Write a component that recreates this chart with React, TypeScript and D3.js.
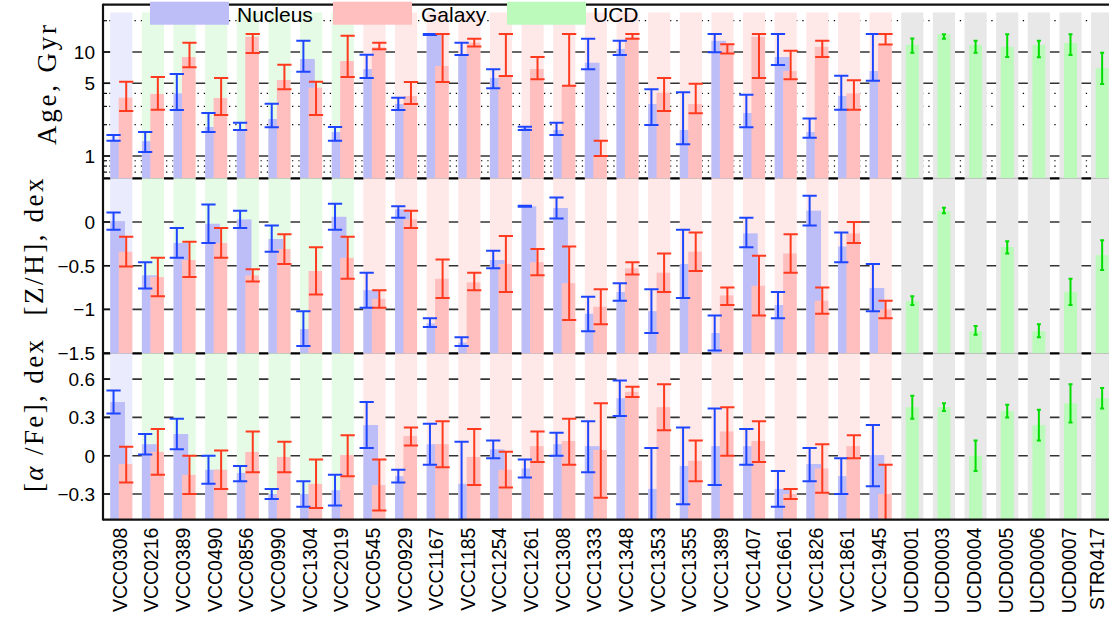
import React from 'react';
import * as d3 from 'd3';

// ---------- categories ----------
const vccNames = ['VCC0308','VCC0216','VCC0389','VCC0490','VCC0856','VCC0990','VCC1304','VCC2019','VCC0545','VCC0929','VCC1167','VCC1185','VCC1254','VCC1261','VCC1308','VCC1333','VCC1348','VCC1353','VCC1355','VCC1389','VCC1407','VCC1661','VCC1826','VCC1861','VCC1945'];
const ucdNames = ['UCD0001','UCD0003','UCD0004','UCD0005','UCD0006','UCD0007','STR0417'];
// background band group of each VCC galaxy
const vccGroup = ['b','g','g','g','g','g','g','g','r','r','r','r','r','r','r','r','r','r','r','r','r','r','r','r','r'];

// ---------- Age, Gyr ----------
const ageNuc   = [1.43,1.39,4.0,1.90,1.80,2.27,8.57,1.70,6.86,3.16,14.9,9.35,5.62,1.86,1.78,7.89,10.7,3.16,1.78,12.8,2.59,8.95,1.70,3.78,6.56];
const ageNucLo = [1.40,1.09,2.77,1.70,1.78,1.89,6.47,1.40,5.62,2.77,14.6,9.35,4.48,1.78,1.59,6.82,9.35,1.99,1.30,9.94,1.89,7.48,1.50,2.79,5.30];
const ageNucHi = [1.59,1.70,6.14,2.59,2.09,3.18,12.8,1.90,9.42,3.64,14.9,12.3,6.82,1.91,2.09,13.4,12.8,4.38,4.10,14.9,3.89,14.9,2.30,5.92,14.9];
const ageGal   = [3.64,3.95,8.95,3.61,14.0,5.38,4.54,8.19,11.1,3.78,7.33,12.3,5.87,6.86,4.74,1.00,13.8,4.06,3.16,11.7,14.0,6.56,11.2,4.00,11.6];
const ageGalLo = [2.71,2.79,7.13,2.48,9.78,4.38,2.48,5.75,10.6,3.16,5.15,11.3,5.87,5.46,4.74,1.00,13.4,2.71,2.57,9.70,5.62,5.46,8.95,2.79,11.8];
const ageGalHi = [5.18,5.75,12.3,5.62,14.9,7.55,5.18,14.3,12.3,5.15,14.9,13.4,14.9,8.95,14.9,1.40,14.9,5.62,4.96,11.9,14.9,10.3,12.8,5.34,14.9];
const ageUcd   = [11.7,14.8,11.7,11.2,11.7,12.2,6.97];
const ageUcdLo = [9.85,13.4,9.85,8.95,8.90,9.35,4.93];
const ageUcdHi = [13.5,14.8,12.8,14.8,12.8,14.8,9.85];

// ---------- [Z/H], dex ----------
const zNuc   = [0.01,-0.61,-0.24,-0.02,0.03,-0.195,-1.225,0.06,-0.78,0.145,-1.16,-1.38,-0.435,0.18,0.16,-1.05,-0.80,-1.02,-0.48,-1.27,-0.13,-0.95,0.13,-0.28,-0.755];
const zNucLo = [-0.09,-0.76,-0.41,-0.24,-0.07,-0.34,-1.42,-0.09,-0.98,0.05,-1.20,-1.42,-0.53,0.175,0.04,-1.25,-0.90,-1.27,-0.87,-1.47,-0.29,-1.10,-0.04,-0.46,-1.02];
const zNucHi = [0.11,-0.46,-0.07,0.20,0.13,-0.04,-1.02,0.21,-0.58,0.18,-1.10,-1.32,-0.33,0.185,0.28,-0.855,-0.70,-0.77,-0.09,-1.07,0.05,-0.80,0.30,-0.12,-0.48];
const zGal   = [-0.34,-0.63,-0.435,-0.24,-0.61,-0.31,-0.56,-0.41,-0.88,0.03,-0.65,-0.69,-0.48,-0.46,-0.70,-0.97,-0.53,-0.58,-0.34,-0.84,-0.73,-0.36,-0.90,-0.13,-1.00];
const zGalLo = [-0.51,-0.85,-0.63,-0.41,-0.68,-0.48,-0.83,-0.65,-0.98,-0.07,-0.87,-0.78,-0.80,-0.61,-1.12,-1.17,-0.60,-0.80,-0.56,-0.95,-1.07,-0.58,-1.05,-0.24,-1.10];
const zGalHi = [-0.17,-0.41,-0.225,-0.07,-0.54,-0.14,-0.29,-0.17,-0.78,0.13,-0.43,-0.58,-0.16,-0.31,-0.28,-0.77,-0.46,-0.36,-0.12,-0.75,-0.385,-0.14,-0.75,0.0,-0.90];
const zUcd   = [-0.905,0.126,-1.25,-0.286,-1.25,-0.80,-0.38];
const zUcdLo = [-0.95,0.10,-1.29,-0.36,-1.32,-0.95,-0.55];
const zUcdHi = [-0.85,0.164,-1.19,-0.22,-1.17,-0.65,-0.21];

// ---------- [alpha/Fe], dex ----------
const aNuc   = [0.42,0.09,0.17,-0.11,-0.135,-0.30,-0.30,-0.27,0.24,-0.16,0.09,-0.22,0.05,-0.10,0.09,0.075,0.45,-0.26,-0.08,0.075,0.075,-0.26,-0.065,-0.16,0.005];
const aNucLo = [0.33,0.01,0.05,-0.22,-0.20,-0.34,-0.40,-0.39,0.06,-0.21,-0.07,-0.55,-0.02,-0.17,0.0,-0.13,0.31,-0.55,-0.38,-0.23,-0.07,-0.40,-0.20,-0.30,-0.24];
const aNucHi = [0.51,0.17,0.29,0.0,-0.08,-0.26,-0.20,-0.15,0.42,-0.11,0.25,0.11,0.12,-0.03,0.18,0.27,0.59,0.06,0.22,0.37,0.21,-0.12,0.06,-0.02,0.24];
const aGal   = [-0.065,0.03,-0.15,-0.11,0.03,-0.01,-0.22,0.005,-0.23,0.155,0.09,-0.01,-0.11,0.075,0.115,0.045,0.50,0.38,-0.04,0.19,0.115,-0.30,-0.10,0.075,-0.30];
const aGalLo = [-0.21,-0.15,-0.30,-0.26,-0.13,-0.13,-0.41,-0.16,-0.43,0.08,-0.09,-0.23,-0.25,-0.05,-0.07,-0.33,0.46,0.20,-0.20,0.0,-0.05,-0.34,-0.29,-0.02,-0.55];
const aGalHi = [0.07,0.21,0.0,0.04,0.19,0.11,-0.03,0.16,-0.03,0.22,0.27,0.21,0.03,0.19,0.29,0.41,0.54,0.56,0.12,0.38,0.27,-0.26,0.09,0.16,-0.07];
const aUcd   = [0.38,0.38,0.0,0.35,0.24,0.41,0.45];
const aUcdLo = [0.29,0.35,-0.12,0.30,0.12,0.26,0.37];
const aUcdHi = [0.47,0.41,0.12,0.40,0.36,0.56,0.53];

// ---------- ticks ----------
const ageTicks = [1, 5, 10];
const ageMinor = [0.7, 0.8, 0.9, 2, 3, 4, 20];
const zTicks = [0, -0.5, -1, -1.5];
const aTicks = [0.6, 0.3, 0, -0.3];

const fmt = (v: number) => (v < 0 ? '\u2212' + String(Math.abs(v)) : String(v));

const COL = {
  nuc: '#bdbdf8', gal: '#ffbfbf', ucd: '#bbfabb',
  bandB: '#ebebfe', bandG: '#e5fbe5', bandR: '#ffe8e8', bandU: '#e8e8e8',
  ebB: '#1e46ff', ebR: '#ff3a1e', ebG: '#00dd00',
};

export default function App() {
  const W = 1109, H = 624;
  const axisX = 103, rightX = 1125;
  const unit = 31.64;
  const allNames = [...vccNames, ...ucdNames];
  const x = d3.scaleLinear().domain([0, allNames.length - 1]).range([121.3, 121.3 + (allNames.length - 1) * unit]);
  const u = (f: number) => f * unit;

  const yAge = d3.scaleLog().domain([1, 10]).range([156, 52]);
  const yZ = d3.scaleLinear().domain([0, -1]).range([222, 309.4]);
  const yA = d3.scaleLinear().domain([0, 0.3]).range([455.7, 417.4]);

  const topY = 4.7;
  const sep1 = 178.3, sep2 = 353.3, botY = yA(-0.5);
  const bandTop = yAge(24);

  const panels = [
    { key: 'age', y: (v: number) => yAge(v), top: topY, bottom: sep1,
      nuc: ageNuc, nucLo: ageNucLo, nucHi: ageNucHi, gal: ageGal, galLo: ageGalLo, galHi: ageGalHi,
      ucd: ageUcd, ucdLo: ageUcdLo, ucdHi: ageUcdHi },
    { key: 'z', y: (v: number) => yZ(v), top: sep1, bottom: sep2,
      nuc: zNuc, nucLo: zNucLo, nucHi: zNucHi, gal: zGal, galLo: zGalLo, galHi: zGalHi,
      ucd: zUcd, ucdLo: zUcdLo, ucdHi: zUcdHi },
    { key: 'a', y: (v: number) => yA(v), top: sep2, bottom: botY,
      nuc: aNuc, nucLo: aNucLo, nucHi: aNucHi, gal: aGal, galLo: aGalLo, galHi: aGalHi,
      ucd: aUcd, ucdLo: aUcdLo, ucdHi: aUcdHi },
  ];

  const majorGrid: number[] = [
    ...ageTicks.map(v => yAge(v)),
    ...zTicks.filter(v => v > -1.5).map(v => yZ(v)),
    ...aTicks.map(v => yA(v)),
  ];
  const minorGrid = ageMinor.map(v => yAge(v));

  const bandColor = (i: number) => {
    if (i >= vccNames.length) return COL.bandU;
    const g = vccGroup[i];
    return g === 'b' ? COL.bandB : g === 'g' ? COL.bandG : COL.bandR;
  };

  const errBar = (k: string, cx: number, y1: number, y2: number, color: string, cap: number) => (
    <g key={k} stroke={color} strokeWidth={2} fill="none">
      <line x1={cx} x2={cx} y1={y1} y2={y2} />
      <line x1={cx - cap / 2} x2={cx + cap / 2} y1={y1} y2={y1} />
      <line x1={cx - cap / 2} x2={cx + cap / 2} y1={y2} y2={y2} />
    </g>
  );

  return (
    <svg width={W} height={H} style={{ position: 'absolute', left: 0, top: 0, background: '#fff' }}
      fontFamily="'Liberation Sans', Arial, Helvetica, sans-serif">
      <defs>
        {panels.map(p => (
          <clipPath id={'clip-' + p.key} key={p.key}>
            <rect x={axisX} y={p.top} width={rightX - axisX} height={p.bottom - p.top} />
          </clipPath>
        ))}
      </defs>
      <rect x={0} y={0} width={W} height={H} fill="#fff" />

      {/* grid lines (visible only between bands) */}
      {majorGrid.map((gy, i) => (
        <line key={'mg' + i} x1={axisX} x2={rightX} y1={gy} y2={gy} stroke="#333" strokeWidth={1.6} />
      ))}
      {minorGrid.map((gy, i) => (
        <line key={'mn' + i} x1={axisX} x2={rightX} y1={gy} y2={gy} stroke="#000" strokeWidth={1.2} strokeDasharray="1.3 5" />
      ))}
      {[sep1, sep2].map((sy, i) => (
        <line key={'sp' + i} x1={axisX} x2={rightX} y1={sy} y2={sy} stroke="#000" strokeWidth={2.2} />
      ))}

      {/* background bands */}
      {allNames.map((n, i) => (
        <rect key={'band' + n} x={x(i) - u(0.35)} width={u(0.7)} y={bandTop} height={botY - bandTop} fill={bandColor(i)} />
      ))}
      {[sep1, sep2].map((sy, i) => (
        <line key={'spf' + i} x1={axisX} x2={rightX} y1={sy} y2={sy} stroke="#000" strokeOpacity={0.22} strokeWidth={1} />
      ))}

      {/* bars and error bars */}
      {panels.map(p => (
        <g key={'p' + p.key} clipPath={`url(#clip-${p.key})`}>
          {vccNames.map((n, i) => {
            const cx = x(i);
            const yn = p.y(p.nuc[i]);
            const yg = p.y(p.gal[i]);
            return (
              <g key={n}>
                <rect x={cx - u(0.35)} width={u(0.465)} y={yn} height={p.bottom - yn} fill={COL.nuc} />
                <rect x={cx - u(0.083)} width={u(0.43)} y={yg} height={p.bottom - yg} fill={COL.gal} />
              </g>
            );
          })}
          {ucdNames.map((n, j) => {
            const cx = x(vccNames.length + j);
            const yu = p.y(p.ucd[j]);
            return <rect key={n} x={cx - u(0.205)} width={u(0.41)} y={yu} height={p.bottom - yu} fill={COL.ucd} />;
          })}
          {vccNames.map((n, i) => {
            const cx = x(i);
            return (
              <g key={'eb' + n}>
                {errBar('n', cx - u(0.245), p.y(p.nucHi[i]), p.y(p.nucLo[i]), COL.ebB, u(0.45))}
                {errBar('g', cx + u(0.155), p.y(p.galHi[i]), p.y(p.galLo[i]), COL.ebR, u(0.45))}
              </g>
            );
          })}
          {ucdNames.map((n, j) => {
            const cx = x(vccNames.length + j);
            return errBar('u' + n, cx, p.y(p.ucdHi[j]), p.y(p.ucdLo[j]), COL.ebG, 4);
          })}
        </g>
      ))}

      {/* frame */}
      <line x1={axisX} x2={rightX} y1={topY} y2={topY} stroke="#111" strokeWidth={2.2} />
      <line x1={axisX} x2={rightX} y1={botY} y2={botY} stroke="#111" strokeWidth={2.2} />
      <line x1={axisX} x2={axisX} y1={topY - 1} y2={botY + 1} stroke="#111" strokeWidth={2.2} />

      {/* y ticks */}
      {ageTicks.map(v => (
        <g key={'at' + v}>
          <line x1={axisX} x2={axisX + 7} y1={yAge(v)} y2={yAge(v)} stroke="#111" strokeWidth={1.5} />
          <text x={95} y={yAge(v)} dy="0.36em" textAnchor="end" fontSize={19}>{fmt(v)}</text>
        </g>
      ))}
      {ageMinor.map(v => (
        <line key={'am' + v} x1={axisX} x2={axisX + 4} y1={yAge(v)} y2={yAge(v)} stroke="#111" strokeWidth={1.2} />
      ))}
      {zTicks.map(v => (
        <g key={'zt' + v}>
          <line x1={axisX} x2={axisX + 7} y1={yZ(v)} y2={yZ(v)} stroke="#111" strokeWidth={1.5} />
          <text x={95} y={yZ(v)} dy="0.36em" textAnchor="end" fontSize={19}>{fmt(v)}</text>
        </g>
      ))}
      {aTicks.map(v => (
        <g key={'aft' + v}>
          <line x1={axisX} x2={axisX + 7} y1={yA(v)} y2={yA(v)} stroke="#111" strokeWidth={1.5} />
          <text x={95} y={yA(v)} dy="0.36em" textAnchor="end" fontSize={19}>{fmt(v)}</text>
        </g>
      ))}

      {/* y titles */}
      <g fontFamily="'Liberation Serif', 'Times New Roman', serif" fontSize={27}>
        <text transform="translate(56,85) rotate(-90)" textAnchor="middle" textLength={120} lengthAdjust="spacing">Age, Gyr</text>
        <text transform="translate(43,247) rotate(-90)" textAnchor="middle" textLength={137} lengthAdjust="spacing">[Z/H], dex</text>
        <text transform="translate(43,416) rotate(-90)" textAnchor="middle" textLength={152} lengthAdjust="spacing">
          [<tspan fontStyle="italic">α</tspan> /Fe], dex
        </text>
      </g>

      {/* x labels (last one kept inside the cropped right edge) */}
      {allNames.map((n, i) => (
        <text key={'xl' + n} transform={`translate(${Math.min(x(i), W - 10)},${botY + 8}) rotate(-90)`} dy="0.28em" textAnchor="end" fontSize={19.5}>{n}</text>
      ))}

      {/* legend */}
      <g fontSize={21}>
        <rect x={150} y={1.7} width={79} height={23} fill={COL.nuc} />
        <text x={237} y={21.7}>Nucleus</text>
        <rect x={333} y={1.7} width={79} height={23} fill={COL.gal} />
        <text x={421} y={21.7}>Galaxy</text>
        <rect x={507} y={1.7} width={79} height={23} fill={COL.ucd} />
        <text x={593} y={21.7}>UCD</text>
      </g>
    </svg>
  );
}
